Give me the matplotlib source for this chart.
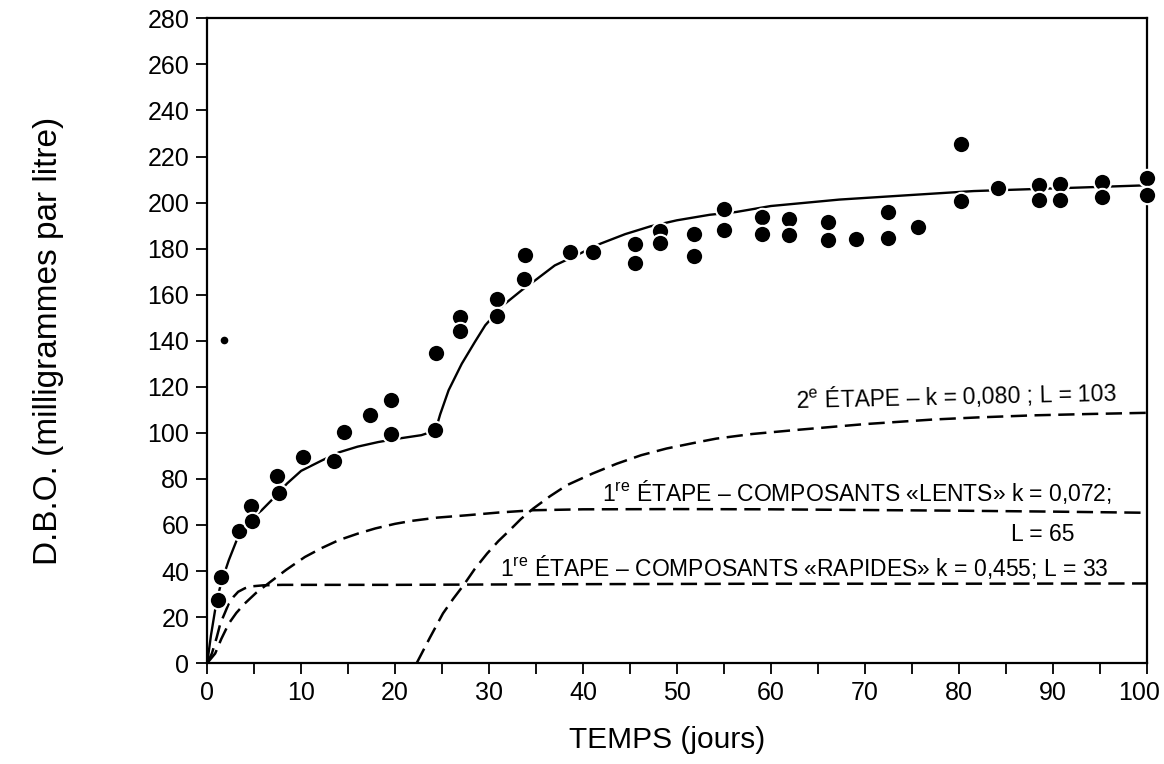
"""
D.B.O. en fonction du temps - courbe a deux etapes
"""

import matplotlib
matplotlib.use('Agg')
import matplotlib.pyplot as plt
import matplotlib.transforms as mtransforms

plt.rcParams['font.family'] = ['Liberation Sans', 'DejaVu Sans']
plt.rcParams['mathtext.fontset'] = 'custom'
plt.rcParams['mathtext.rm'] = 'Liberation Sans'

# points mesures (jours, mg/l)
temps_obs = [1.2, 1.45, 3.4, 4.7, 4.8, 7.4, 7.6, 10.2, 13.5, 14.6, 17.3, 19.6, 19.6,
             24.3, 24.4, 26.9, 26.9, 30.9, 30.9, 33.8, 33.7, 38.6, 41.1, 45.5, 45.5,
             48.2, 48.2, 51.8, 51.8, 55.0, 55.0, 59.1, 59.1, 61.9, 61.9, 66.1, 66.1,
             69.1, 72.5, 72.5, 75.7, 80.2, 80.2, 84.2, 88.5, 88.5, 90.8, 90.8,
             95.3, 95.3, 100.0, 100.0]
dbo_obs = [27.6, 37.5, 57.3, 68.3, 61.8, 81.2, 74.1, 89.4, 87.7, 100.5, 107.9, 114.4, 99.4,
           101.1, 134.7, 150.3, 144.2, 158.1, 150.6, 177.4, 167.0, 178.4, 178.5, 182.2, 173.9,
           187.6, 182.4, 186.5, 176.6, 197.3, 187.9, 193.7, 186.5, 193.0, 185.8, 191.5, 183.9,
           184.3, 195.9, 184.8, 189.4, 225.5, 200.7, 206.5, 207.5, 201.0, 208.2, 201.2,
           208.9, 202.4, 210.8, 203.1]
# le petit point isole
temps_pt = [1.8]
dbo_pt = [140.5]

# courbe totale (trait plein)
total_x = [0, 0.4, 1.0, 1.5, 2.3, 3.2, 4.5, 5.8, 7.2, 8.5, 10, 12.2, 14, 16, 18.2, 20, 22.8,
           24.3, 24.8, 25.7, 27.1, 28.5, 29.6, 31.5, 33.5, 35, 37, 39.5, 41.9, 44.5, 47.2, 50,
           53.5, 56.3, 60, 67.3, 75, 81.6, 86, 92.7, 100]
total_y = [0, 12, 27, 35, 44.7, 54, 62, 66.4, 72.2, 78, 83.5, 88.0, 91.5, 94.0, 96, 97.3, 99,
           101, 108, 118.5, 130, 139.5, 146.7, 155.4, 162, 166.5, 172.7, 177.5, 182.2, 186.3,
           189.7, 192.3, 194.7, 195.9, 198.5, 201.3, 203.3, 205, 205.6, 206.5, 207.5]

# 1re etape - composants rapides
rapide_x = [0, 0.5, 1.0, 1.4, 1.9, 2.3, 2.8, 3.3, 4.0, 4.6, 6, 8, 10, 20, 40, 60, 80, 100]
rapide_y = [0, 4.2, 11, 17.2, 22, 25.9, 28.8, 31, 32.5, 33.3, 33.8, 34, 34, 34, 34.3, 34.5, 34.5, 34.6]

# 1re etape - composants lents
lent_x = [0, 0.85, 1.5, 2.3, 3.1, 4.0, 5.2, 6.5, 8.4, 10.4, 12.2, 14, 16, 17.9, 20, 21.8,
          24.5, 27.6, 31, 34.7, 40, 50, 60, 70, 80, 90, 100]
lent_y = [0, 4.2, 10.5, 17.2, 21.8, 25.9, 30.5, 34.6, 40.5, 46.1, 50, 53.4, 56.2, 58.5, 60.5,
          61.8, 63.2, 64.2, 65.4, 66.4, 66.8, 66.9, 66.8, 66.5, 66.2, 65.8, 65.3]

# 2e etape
etape2_x = [22.3, 23.7, 25.1, 26.2, 27.3, 28.5, 29.8, 31, 32.2, 33.4, 34.7, 36.5, 38.3, 41,
            43.6, 46.2, 48.9, 52.4, 54.2, 58, 63.1, 70, 77.3, 82, 87.9, 94, 100]
etape2_y = [0, 11, 21.6, 28, 33.9, 41, 47.6, 53, 57.7, 62.6, 67.1, 72.5, 77.3, 82.3, 86.6,
            90.3, 93.2, 96.1, 97.5, 99.5, 101.4, 103.8, 105.8, 106.7, 107.6, 108.2, 108.7]

fig = plt.figure(figsize=(11.64, 7.64), dpi=100)
ax = fig.add_axes([0.178, 0.132, 0.807, 0.844])

tirets = (6.5, 3)
ax.plot(rapide_x, rapide_y, 'k--', lw=1.8, dashes=tirets, zorder=2)
ax.plot(lent_x, lent_y, 'k--', lw=1.8, dashes=tirets, zorder=2)
ax.plot(etape2_x, etape2_y, 'k--', lw=1.8, dashes=tirets, zorder=2)
ax.plot(total_x, total_y, 'k-', lw=1.7, zorder=3)

# points avec un liseré blanc pour couper la courbe comme sur l'original
ax.plot(temps_obs, dbo_obs, 'o', color='black', ms=12.5, mec='white', mew=1.5,
        zorder=4, clip_on=False)
ax.plot(temps_pt, dbo_pt, 'o', color='black', ms=5.5, mec='none', zorder=4)

# textes des courbes
fs = 16.5
ax.text(62.6, 111, r'2$^{\mathrm{e}}$ ÉTAPE – k = 0,080 ; L = 103', fontsize=fs,
        rotation=1.3, va='baseline')
ax.text(42.0, 70.3, r'1$^{\mathrm{re}}$ ÉTAPE – COMPOSANTS «LENTS» k = 0,072;', fontsize=fs,
        va='baseline')
ax.text(85.6, 53, 'L = 65', fontsize=fs, va='baseline')
ax.text(31.2, 37.8, r'1$^{\mathrm{re}}$ ÉTAPE – COMPOSANTS «RAPIDES» k = 0,455; L = 33',
        fontsize=fs, va='baseline')

ax.set_xlim(0, 100)
ax.set_ylim(0, 280)
ax.set_xticks(range(0, 101, 10))
ax.set_xticks(range(5, 100, 10), minor=True)
ax.set_yticks(range(0, 281, 20))
ax.tick_params(axis='both', which='both', direction='out', length=8, width=1.3,
               labelsize=18, pad=5)
for s in ax.spines.values():
    s.set_linewidth(1.6)

# le "100" est un peu decale vers la gauche pour rester dans l'image
lab = ax.xaxis.get_major_ticks()[-1].label1
lab.set_transform(lab.get_transform() + mtransforms.ScaledTranslation(-0.07, 0, fig.dpi_scale_trans))

ax.set_xlabel('TEMPS (jours)', fontsize=21.5)
ax.set_ylabel('D.B.O. (milligrammes par litre)', fontsize=24)
ax.xaxis.set_label_coords(0.49, -0.097)
ax.yaxis.set_label_coords(-0.152, 0.5)

fig.savefig('out.png', dpi=100)
